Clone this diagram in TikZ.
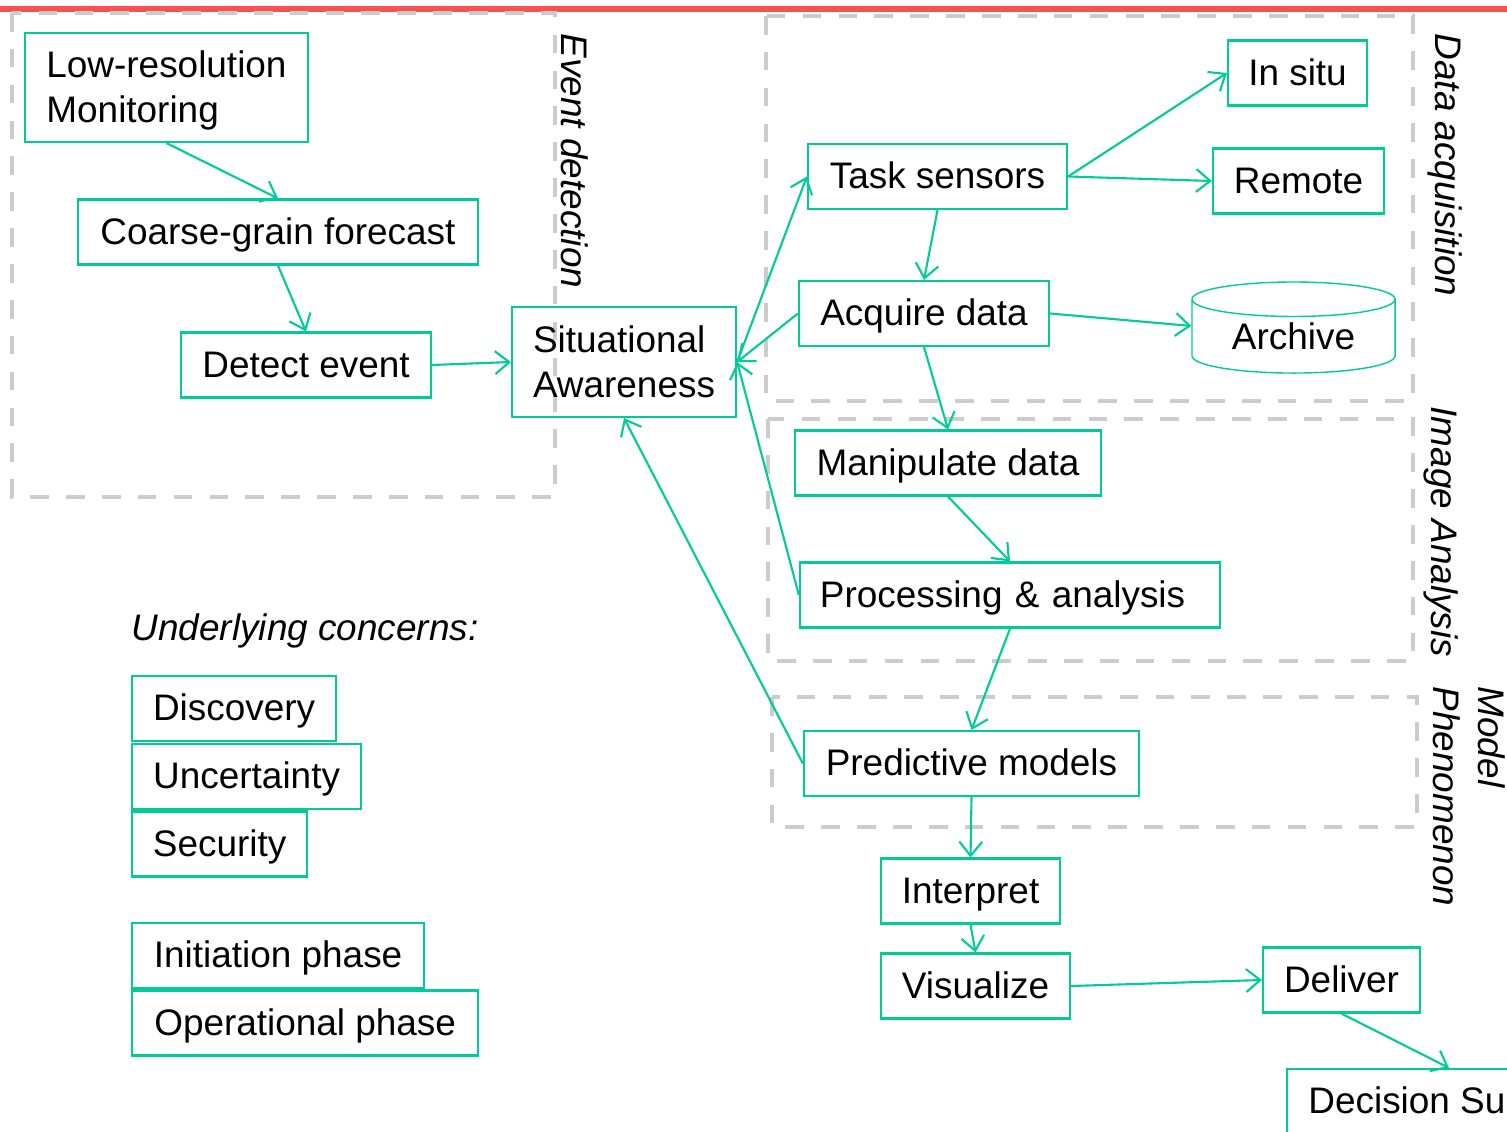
\documentclass[tikz,border=0pt]{standalone}
\usepackage{fontspec}
\setmainfont{Liberation Sans}
\usetikzlibrary{arrows.meta, shapes.geometric}
\definecolor{flowgreen}{RGB}{0,204,153}
\definecolor{framegrey}{RGB}{204,204,204}
\definecolor{topred}{RGB}{250,80,80}

\begin{document}
\begin{tikzpicture}[x=0.01cm, y=-0.01cm, font=\fontsize{10.5}{12.8}\selectfont,
  box/.style={draw=flowgreen, line width=0.6pt, minimum height=0.65cm, inner sep=0pt,
              text height=0.9em, text depth=0.2em},
  twoline/.style={align=left, text height=2.2em},
  frame/.style={draw=framegrey, line width=1.2pt, dash pattern=on 5.3pt off 4.9pt},
  link/.style={draw=flowgreen, line width=0.6pt, -{Straight Barb[length=4pt, width=6.5pt]}},
  tag/.style={font=\fontsize{10.5}{12.8}\selectfont\itshape, rotate=-90, anchor=west, inner sep=0pt}]
  \useasboundingbox (0,0) rectangle (1507,1131);
  \draw[topred, line width=1.7pt] (0,9) -- (1507,9);

  % dashed stage frames
  \foreach \xa/\ya/\xb/\yb in {12/13/555/497, 766/16/1413/401, 768/419/1413/661, 772/697/1417/827}
    \draw[frame] (\xa,\ya) rectangle (\xb,\yb);
  \node[tag] (lbl-event) at (575,33) {Event detection};
  \node[tag] (lbl-acq) at (1445,33) {Data acquisition};
  \node[tag] (lbl-img) at (1441,406) {Image Analysis};
  \node[tag, align=left] (lbl-model) at (1469,686) {Model\\Phenomenon};

  % event detection
  \node[box, twoline, minimum width=2.83cm, minimum height=1.09cm] (lowres) at (166.5,87.5) {Low-resolution\\Monitoring};
  \node[box, minimum width=4.00cm] (coarse) at (278,232) {Coarse-grain forecast};
  \node[box, minimum width=2.50cm] (detect) at (306,365) {Detect event};
  \node[box, twoline, minimum width=2.24cm, minimum height=1.10cm] (aware) at (624,362) {Situational\\Awareness};

  % data acquisition
  \node[box, minimum width=2.59cm] (task) at (937.5,176.5) {Task sensors};
  \node[box, minimum width=1.39cm] (insitu) at (1297.5,73) {In situ};
  \node[box, minimum width=1.71cm] (remote) at (1298.5,181) {Remote};
  \node[box, minimum width=2.50cm] (acquire) at (924,313.5) {Acquire data};
  \node[cylinder, shape border rotate=90, aspect=0.28, draw=flowgreen, line width=0.4pt,
        minimum width=2.03cm, minimum height=0.91cm, inner sep=0pt] (archive) at (1293.5,336.5) {Archive};

  % analysis and models
  \node[box, minimum width=3.06cm] (manip) at (948,463) {Manipulate data};
  \node[box, minimum width=4.20cm, text width=3.80cm, align=left] (proc) at (1010,595) {Processing \& analysis};
  \node[box, minimum width=3.35cm] (predict) at (971.5,763.5) {Predictive models};
  \node[box, minimum width=1.79cm] (interp) at (970.5,891) {Interpret};
  \node[box, minimum width=1.89cm] (visual) at (975.5,986) {Visualize};
  \node[box, minimum width=1.57cm] (deliver) at (1341.5,980) {Deliver};
  \node[box, minimum width=3.24cm] (decide) at (1449,1101.5) {Decision Support};

  % concerns and phases
  \node[anchor=west, inner sep=0pt, font=\fontsize{10.5}{12.8}\selectfont\itshape] (concerns) at (131,631) {Underlying concerns:};
  \foreach \n/\t/\w/\y in {disc/Discovery/2.04/708.5, unc/Uncertainty/2.29/776.5, sec/Security/1.75/844,
                           init/Initiation phase/2.92/955.5, oper/Operational phase/3.46/1023}
    \node[box, minimum width=\w cm, anchor=west] (\n) at (131,\y) {\t};

  % connectors
  \draw[link] (lowres.south) -- (coarse.north);
  \draw[link] (coarse.south) -- (detect.north);
  \draw[link] (detect.east) -- (aware.west);
  \draw[link] (aware.east) -- (task.west);
  \draw[link] (task.east) -- (insitu.west);
  \draw[link] (task.east) -- (remote.west);
  \draw[link] (task.south) -- (acquire.north);
  \draw[link] (acquire.east) -- ([yshift=3pt]archive.west);
  \draw[link] (acquire.west) -- (aware.east);
  \draw[link] (acquire.south) -- (manip.north);
  \draw[link] (manip.south) -- (proc.north);
  \draw[link] (proc.west) -- (aware.east);
  \draw[link] (proc.south) -- (predict.north);
  \draw[link] (predict.west) -- (aware.south);
  \draw[link] (predict.south) -- (interp.north);
  \draw[link] (interp.south) -- (visual.north);
  \draw[link] (visual.east) -- (deliver.west);
  \draw[link] (deliver.south) -- (decide.north);
\end{tikzpicture}
\end{document}
